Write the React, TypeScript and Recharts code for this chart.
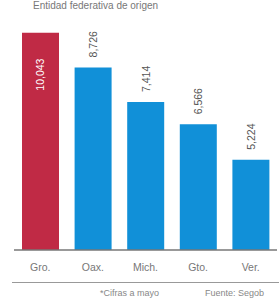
import { Bar, BarChart, Cell, LabelList, XAxis, YAxis } from 'recharts'

const states = ['Gro.', 'Oax.', 'Mich.', 'Gto.', 'Ver.']
const values = [10043, 8726, 7414, 6566, 5224]
const highlight = [true, false, false, false, false]

const RED = '#c02a45'
const BLUE = '#1190d8'
const FONT = "'Liberation Sans Narrow', 'Liberation Sans', Arial, sans-serif"

const data = states.map((name, i) => ({ name, value: values[i], hi: highlight[i] }))

const fmt = (v: number) => v.toLocaleString('en-US')

// etiqueta vertical: dentro de la barra si es la destacada, encima si no
function ValueLabel(props: any) {
  const { x, y, width, value, index } = props
  const cx = x + width / 2
  const inside = data[index]?.hi
  const ty = inside ? y + 58 : y - 10
  return (
    <text
      x={cx}
      y={ty}
      transform={`rotate(-90 ${cx} ${ty})`}
      textAnchor="start"
      dominantBaseline="central"
      fontSize={10.5}
      fontFamily={FONT}
      fill={inside ? '#ffffff' : '#555'}
    >
      {fmt(value)}
    </text>
  )
}

export default function App() {
  return (
    <div
      style={{
        position: 'absolute',
        left: 0,
        top: 0,
        width: 279,
        height: 302,
        overflow: 'hidden',
        background: '#fff',
        fontFamily: FONT
      }}
    >
      <div
        style={{
          position: 'absolute',
          left: 33,
          top: 0,
          fontSize: 10,
          lineHeight: '11px',
          color: '#777',
          whiteSpace: 'nowrap'
        }}
      >
        Entidad federativa de origen
      </div>
      <BarChart
        width={279}
        height={282}
        data={data}
        margin={{ top: 18, right: 2, bottom: 2, left: 14 }}
        style={{ position: 'absolute', left: 0, top: 0 }}
      >
        <XAxis
          dataKey="name"
          tickLine={false}
          axisLine={{ stroke: '#777', strokeWidth: 1.5 }}
          tick={{ fill: '#777', fontSize: 10.5, fontFamily: FONT }}
          tickMargin={8}
          height={30}
          interval={0}
        />
        <YAxis hide domain={[1800, 10600]} allowDataOverflow />
        <Bar dataKey="value" barSize={37} isAnimationActive={false}>
          {data.map((d) => (
            <Cell key={d.name} fill={d.hi ? RED : BLUE} />
          ))}
          <LabelList dataKey="value" content={<ValueLabel />} />
        </Bar>
      </BarChart>
      <div
        style={{
          position: 'absolute',
          left: 12,
          right: 0,
          top: 282,
          height: 0,
          borderTop: '1.5px solid #999'
        }}
      />
      <div
        style={{
          position: 'absolute',
          left: 100,
          top: 288,
          fontSize: 9,
          color: '#888',
          whiteSpace: 'nowrap'
        }}
      >
        *Cifras a mayo
      </div>
      <div
        style={{
          position: 'absolute',
          left: 205,
          top: 288,
          fontSize: 9,
          color: '#888',
          whiteSpace: 'nowrap'
        }}
      >
        Fuente: Segob
      </div>
    </div>
  )
}
